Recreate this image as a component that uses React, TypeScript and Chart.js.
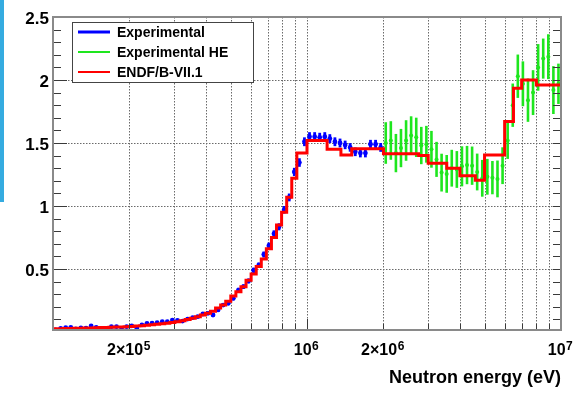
import React, { useEffect, useRef } from 'react';
import { Chart, registerables } from 'chart.js';

Chart.register(...registerables);

const FONT = "'Liberation Sans', Arial, Helvetica, sans-serif";

// ---- Experimental (blue): bin-centre energies (keV), values, errors ----
const expEnergyKeV = [
  102.3, 107.2, 112.2, 117.5, 123.0, 128.8, 134.9, 141.3, 147.9, 154.9,
  162.2, 169.8, 177.8, 186.2, 195.0, 204.2, 213.8, 223.9, 234.4, 245.5,
  257.0, 269.2, 281.8, 295.1, 309.0, 323.6, 338.8, 354.8, 371.5, 389.0,
  407.4, 426.6, 446.7, 467.7, 489.8, 512.9, 537.0, 562.3, 588.8, 616.6,
  645.7, 676.1, 707.9, 741.3, 776.2, 812.8, 851.1, 891.3, 933.3, 977.2,
  1023, 1072, 1122, 1175, 1230, 1288, 1349, 1413, 1479, 1549,
  1622, 1698, 1778, 1862, 1950,
];
const expValues = [
  0.016, 0.029, 0.035, 0.037, 0.024, 0.032, 0.030, 0.048, 0.037, 0.024,
  0.021, 0.042, 0.042, 0.024, 0.042, 0.048, 0.032, 0.056, 0.069, 0.071,
  0.074, 0.082, 0.082, 0.095, 0.093, 0.087, 0.103, 0.114, 0.122, 0.143,
  0.148, 0.135, 0.175, 0.214, 0.228, 0.267, 0.333, 0.36, 0.405, 0.49,
  0.53, 0.615, 0.685, 0.78, 0.835, 0.97, 1.068, 1.27, 1.345, 1.51,
  1.55, 1.55, 1.545, 1.55, 1.535, 1.51, 1.50, 1.485, 1.465, 1.43,
  1.42, 1.42, 1.49, 1.49, 1.465,
];
const expErrors = [
  0.008, 0.008, 0.008, 0.008, 0.008, 0.008, 0.008, 0.009, 0.008, 0.008,
  0.008, 0.009, 0.009, 0.008, 0.009, 0.009, 0.008, 0.010, 0.010, 0.010,
  0.010, 0.010, 0.010, 0.011, 0.011, 0.011, 0.012, 0.012, 0.012, 0.013,
  0.013, 0.013, 0.014, 0.015, 0.015, 0.016, 0.018, 0.018, 0.019, 0.021,
  0.022, 0.024, 0.025, 0.027, 0.028, 0.030, 0.031, 0.033, 0.034, 0.035,
  0.036, 0.036, 0.036, 0.036, 0.035, 0.035, 0.035, 0.034, 0.034, 0.034,
  0.034, 0.034, 0.035, 0.035, 0.035,
];

// ---- Experimental HE (green) ----
const heEnergyKeV = [
  2042, 2138, 2239, 2344, 2455, 2570, 2692, 2818, 2951, 3090,
  3236, 3388, 3548, 3715, 3890, 4074, 4266, 4467, 4677, 4898,
  5129, 5370, 5623, 5888, 6166, 6457, 6761, 7079, 7413, 7762,
  8128, 8511, 8913, 9333, 9772,
];
const heValues = [
  1.50, 1.52, 1.42, 1.46, 1.52, 1.56, 1.545, 1.48, 1.49, 1.45,
  1.37, 1.265, 1.255, 1.30, 1.29, 1.315, 1.325, 1.32, 1.27, 1.22,
  1.232, 1.225, 1.215, 1.32, 1.52, 1.80, 2.03, 1.97, 1.84, 1.90,
  2.10, 2.17, 2.185, 1.92, 1.97,
];
const heErrors = [
  0.165, 0.153, 0.152, 0.152, 0.161, 0.152, 0.156, 0.148, 0.146, 0.146,
  0.139, 0.150, 0.150, 0.146, 0.146, 0.159, 0.152, 0.152, 0.146, 0.146,
  0.142, 0.132, 0.146, 0.146, 0.146, 0.172, 0.172, 0.178, 0.172, 0.178,
  0.185, 0.159, 0.178, 0.190, 0.160,
];

// ---- ENDF/B-VII.1 (red step histogram): bin lower edges (keV) + last upper edge ----
const endfEdgesKeV = [
  100, 104.7, 109.6, 114.8, 120.2, 125.9, 131.8, 138.0, 144.5, 151.4,
  158.5, 166.0, 173.8, 182.0, 190.5, 199.5, 208.9, 218.8, 229.1, 239.9,
  251.2, 263.0, 275.4, 288.4, 302.0, 316.2, 331.1, 346.7, 363.1, 380.2,
  398.1, 416.9, 436.5, 457.1, 478.6, 501.2, 524.8, 549.5, 575.4, 602.6,
  631.0, 660.7, 691.8, 724.4, 758.6, 794.3, 831.8, 871.0, 912.0, 955.0,
  1000, 1200, 1360, 1500, 2000, 2750, 3000, 3550, 4000, 4600,
  5000, 6000, 6500, 7000, 8000, 10000,
];
const endfValues = [
  0.025, 0.026, 0.027, 0.028, 0.029, 0.030, 0.031, 0.032, 0.033, 0.035,
  0.036, 0.037, 0.039, 0.040, 0.042, 0.044, 0.047, 0.050, 0.053, 0.057,
  0.061, 0.065, 0.070, 0.076, 0.082, 0.089, 0.100, 0.110, 0.122, 0.135,
  0.148, 0.165, 0.19, 0.215, 0.245, 0.285, 0.32, 0.36, 0.41, 0.46,
  0.52, 0.58, 0.66, 0.75, 0.85, 0.95, 1.07, 1.22, 1.42, 1.42,
  1.52, 1.45, 1.405, 1.455, 1.415, 1.40, 1.34, 1.30, 1.24, 1.205,
  1.405, 1.67, 1.935, 2.0, 1.96,
];

// ---- Axes ----
const X_MIN = 1e5;
const X_MAX = 1e7;
const Y_MIN = 0.016;
const Y_MAX = 2.5;
const yTickValues = [0.5, 1, 1.5, 2, 2.5];
const yTickLabels = ['0.5', '1', '1.5', '2', '2.5'];
const yGridValues = [0.5, 1, 1.5, 2];
const xGridValues = [
  2e5, 3e5, 4e5, 5e5, 6e5, 7e5, 8e5, 9e5, 1e6,
  2e6, 3e6, 4e6, 5e6, 6e6, 7e6, 8e6, 9e6,
];
const xMajorValues = [1e6];
const xLabelValues = [2e5, 1e6, 2e6, 1e7];
const xLabelBases = ['2\u00d710', '10', '2\u00d710', '10'];
const xLabelExps = ['5', '6', '6', '7'];
const xTitle = 'Neutron energy (eV)';

const legendLabels = ['Experimental', 'Experimental HE', 'ENDF/B-VII.1'];
const COLOR_EXP = '#0000ff';
const COLOR_HE = '#1ee61e';
const COLOR_ENDF = '#ff0000';

const W = 574;
const H = 393;

const rootPlugin = {
  id: 'rootStyle',
  beforeDraw(chart: any) {
    const ctx = chart.ctx;
    ctx.save();
    ctx.fillStyle = '#ffffff';
    ctx.fillRect(0, 0, chart.width, chart.height);
    ctx.fillStyle = '#35abe0';
    ctx.fillRect(0, 0, 4, 202);
    ctx.restore();
  },
  beforeDatasetsDraw(chart: any) {
    const { ctx, chartArea: a, scales } = chart;
    const x = scales.x;
    const y = scales.y;
    ctx.save();
    ctx.strokeStyle = '#6a6a6a';
    ctx.lineWidth = 1;
    ctx.setLineDash([1.5, 1.5]);
    for (const v of xGridValues) {
      const px = Math.round(x.getPixelForValue(v)) + 0.5;
      ctx.beginPath();
      ctx.moveTo(px, a.top);
      ctx.lineTo(px, a.bottom);
      ctx.stroke();
    }
    for (const v of yGridValues) {
      const py = Math.round(y.getPixelForValue(v)) + 0.5;
      ctx.beginPath();
      ctx.moveTo(a.left, py);
      ctx.lineTo(a.right, py);
      ctx.stroke();
    }
    ctx.restore();
  },
  beforeDatasetDraw(chart: any, args: any) {
    const ds = chart.data.datasets[args.index];
    if (!ds.errors) return;
    const { ctx, chartArea: a, scales } = chart;
    const x = scales.x;
    const y = scales.y;
    ctx.save();
    ctx.beginPath();
    ctx.rect(a.left, a.top, a.right - a.left, a.bottom - a.top);
    ctx.clip();
    ctx.strokeStyle = ds.errorColor;
    ctx.lineWidth = ds.errorWidth;
    ds.data.forEach((p: any, i: number) => {
      const e = ds.errors[i];
      const px = x.getPixelForValue(p.x);
      ctx.beginPath();
      ctx.moveTo(px, y.getPixelForValue(p.y - e));
      ctx.lineTo(px, y.getPixelForValue(p.y + e));
      ctx.stroke();
    });
    ctx.restore();
  },
  afterDatasetsDraw(chart: any) {
    const { ctx, chartArea: a, scales } = chart;
    const x = scales.x;
    const y = scales.y;
    ctx.save();

    // ticks
    ctx.strokeStyle = '#3a3a3a';
    ctx.lineWidth = 1;
    for (let i = 1; i <= 25; i++) {
      const v = i / 10;
      if (v < Y_MIN || v > Y_MAX) continue;
      const py = Math.round(y.getPixelForValue(v)) + 0.5;
      const major = i % 5 === 0;
      ctx.beginPath();
      ctx.moveTo(a.left, py);
      ctx.lineTo(a.left + (major ? 14 : 8), py);
      ctx.moveTo(a.right, py);
      ctx.lineTo(a.right - 8, py);
      ctx.stroke();
    }
    for (const v of xGridValues) {
      const px = Math.round(x.getPixelForValue(v)) + 0.5;
      const major = xMajorValues.includes(v);
      ctx.beginPath();
      ctx.moveTo(px, a.bottom);
      ctx.lineTo(px, a.bottom - (major ? 11 : 6));
      ctx.stroke();
    }

    // frame
    ctx.strokeStyle = '#8a8a8a';
    ctx.lineWidth = 2;
    ctx.strokeRect(a.left, a.top, a.right - a.left, a.bottom - a.top);

    // y labels
    ctx.fillStyle = '#000000';
    ctx.font = `bold 17px ${FONT}`;
    ctx.textAlign = 'right';
    ctx.textBaseline = 'alphabetic';
    yTickValues.forEach((v, i) => {
      const py = y.getPixelForValue(v);
      ctx.fillText(yTickLabels[i], a.left - 4, py + 7);
    });

    // x labels with exponents
    const baseFont = `bold 16px ${FONT}`;
    const expFont = `bold 12px ${FONT}`;
    ctx.textAlign = 'left';
    xLabelValues.forEach((v, i) => {
      const px = x.getPixelForValue(v);
      ctx.font = baseFont;
      const wb = ctx.measureText(xLabelBases[i]).width;
      ctx.font = expFont;
      const we = ctx.measureText(xLabelExps[i]).width;
      const start = px - (wb + we) / 2 - 1;
      ctx.font = baseFont;
      ctx.fillText(xLabelBases[i], start, 355);
      ctx.font = expFont;
      ctx.fillText(xLabelExps[i], start + wb + 0.5, 350);
    });

    // axis title
    ctx.font = `bold 18px ${FONT}`;
    ctx.textAlign = 'right';
    ctx.fillText(xTitle, a.right, 383);

    // legend
    const lx = 72.5;
    const ly = 22.5;
    ctx.fillStyle = '#ffffff';
    ctx.fillRect(lx, ly, 181, 60);
    ctx.strokeStyle = '#444444';
    ctx.lineWidth = 1;
    ctx.strokeRect(lx, ly, 181, 60);
    const colors = [COLOR_EXP, COLOR_HE, COLOR_ENDF];
    const widths = [3, 2, 2];
    ctx.font = `bold 14px ${FONT}`;
    ctx.textAlign = 'left';
    legendLabels.forEach((label, i) => {
      const cy = 32 + i * 20;
      ctx.strokeStyle = colors[i];
      ctx.lineWidth = widths[i];
      ctx.beginPath();
      ctx.moveTo(78, cy);
      ctx.lineTo(110, cy);
      ctx.stroke();
      ctx.fillStyle = '#000000';
      ctx.fillText(label, 117, cy + 5);
    });

    ctx.restore();
  },
};

export default function App() {
  const ref = useRef<HTMLCanvasElement>(null);

  useEffect(() => {
    document.body.style.margin = '0';
    const endfData = endfEdgesKeV.map((e, i) => ({
      x: e * 1000,
      y: endfValues[Math.min(i, endfValues.length - 1)],
    }));
    const expData = expEnergyKeV.map((e, i) => ({ x: e * 1000, y: expValues[i] }));
    const heData = heEnergyKeV.map((e, i) => ({ x: e * 1000, y: heValues[i] }));

    const chart = new Chart(ref.current as HTMLCanvasElement, {
      type: 'scatter',
      data: {
        datasets: [
          {
            label: legendLabels[2],
            data: endfData,
            showLine: true,
            stepped: true,
            borderColor: COLOR_ENDF,
            borderWidth: 3,
            borderJoinStyle: 'miter',
            pointRadius: 0,
            fill: false,
          } as any,
          {
            label: legendLabels[1],
            data: heData,
            showLine: false,
            pointRadius: 2,
            pointBorderWidth: 0,
            backgroundColor: COLOR_HE,
            borderColor: COLOR_HE,
            errors: heErrors,
            errorColor: COLOR_HE,
            errorWidth: 2.6,
          } as any,
          {
            label: legendLabels[0],
            data: expData,
            showLine: false,
            pointRadius: 2.4,
            pointBorderWidth: 0,
            backgroundColor: COLOR_EXP,
            borderColor: COLOR_EXP,
            errors: expErrors,
            errorColor: COLOR_EXP,
            errorWidth: 2.8,
          } as any,
        ],
      },
      options: {
        animation: false,
        responsive: false,
        devicePixelRatio: 1,
        layout: { padding: { left: 53, right: 13, top: 17, bottom: 63 } },
        scales: {
          x: { type: 'logarithmic', min: X_MIN, max: X_MAX, display: false },
          y: { type: 'linear', min: Y_MIN, max: Y_MAX, display: false, bounds: 'data' } as any,
        },
        plugins: {
          legend: { display: false },
          tooltip: { enabled: false },
        },
        events: [],
      },
      plugins: [rootPlugin],
    });
    return () => chart.destroy();
  }, []);

  return (
    <div style={{ width: W, height: H }}>
      <canvas ref={ref} width={W} height={H} style={{ display: 'block', width: W, height: H }} />
    </div>
  );
}
